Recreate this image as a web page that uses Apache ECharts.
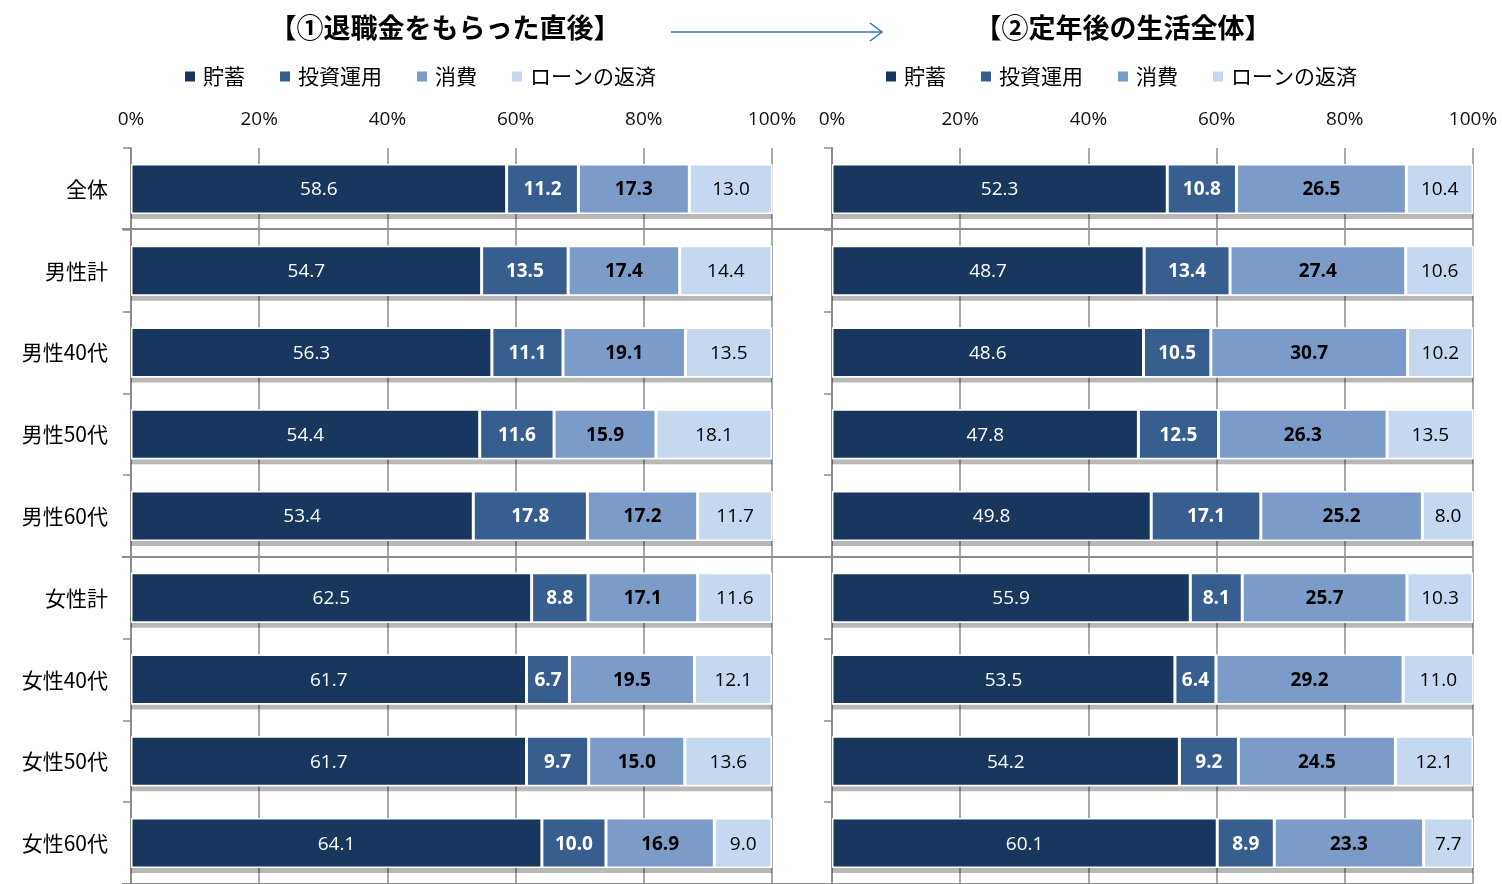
<!DOCTYPE html>
<html>
<head>
<meta charset="utf-8">
<script src="https://cdn.jsdelivr.net/npm/echarts@6/dist/echarts.min.js"></script>
<style>
  html, body { margin: 0; padding: 0; background: #fff; }
  #chart { width: 1502px; height: 884px; }
</style>
</head>
<body>
<div id="chart"></div>
<script>
// カテゴリ（上から順）
const categories = ['全体', '男性計', '男性40代', '男性50代', '男性60代', '女性計', '女性40代', '女性50代', '女性60代'];
const seriesNames = ['貯蓄', '投資運用', '消費', 'ローンの返済'];
const xTicks = [0, 20, 40, 60, 80, 100];

// ①退職金をもらった直後
const leftSaving  = [58.6, 54.7, 56.3, 54.4, 53.4, 62.5, 61.7, 61.7, 64.1];
const leftInvest  = [11.2, 13.5, 11.1, 11.6, 17.8, 8.8, 6.7, 9.7, 10.0];
const leftConsume = [17.3, 17.4, 19.1, 15.9, 17.2, 17.1, 19.5, 15.0, 16.9];
const leftLoan    = [13.0, 14.4, 13.5, 18.1, 11.7, 11.6, 12.1, 13.6, 9.0];

// ②定年後の生活全体
const rightSaving  = [52.3, 48.7, 48.6, 47.8, 49.8, 55.9, 53.5, 54.2, 60.1];
const rightInvest  = [10.8, 13.4, 10.5, 12.5, 17.1, 8.1, 6.4, 9.2, 8.9];
const rightConsume = [26.5, 27.4, 30.7, 26.3, 25.2, 25.7, 29.2, 24.5, 23.3];
const rightLoan    = [10.4, 10.6, 10.2, 13.5, 8.0, 10.3, 11.0, 12.1, 7.7];

const colors = ['#17375E', '#365E8F', '#7B9BC9', '#C5D8EF'];
const labelStyles = [
  { color: '#fff', fontWeight: 'normal' },
  { color: '#fff', fontWeight: 'bold' },
  { color: '#000', fontWeight: 'bold' },
  { color: '#000', fontWeight: 'normal' }
];
const numFont = '"Open Sans", "Noto Sans", sans-serif';
const jpFont = '"Noto Sans CJK JP", sans-serif';
const gridColor = '#8c8c8c';

const myChart = echarts.init(document.getElementById('chart'));

function xAxisFor(gridIndex) {
  return {
    type: 'value',
    gridIndex: gridIndex,
    position: 'top',
    min: xTicks[0],
    max: xTicks[xTicks.length - 1],
    interval: xTicks[1] - xTicks[0],
    axisLine: { show: false },
    axisTick: { show: false },
    axisLabel: {
      formatter: '{value}%',
      fontSize: 19,
      color: '#111',
      margin: 19,
      fontFamily: numFont
    },
    splitLine: { show: true, lineStyle: { color: gridColor, width: 1.5 } }
  };
}

function yAxisFor(gridIndex, showLabel) {
  return {
    type: 'category',
    gridIndex: gridIndex,
    inverse: true,
    data: categories,
    axisLine: { show: true, lineStyle: { color: gridColor, width: 2 } },
    axisTick: { show: true, length: 8, lineStyle: { color: gridColor, width: 1.5 } },
    axisLabel: {
      show: showLabel,
      fontSize: 21,
      color: '#000',
      margin: 23,
      fontFamily: jpFont
    },
    splitLine: { show: false }
  };
}

function panelSeries(data, stack, idx) {
  // 棒の下の影（合計値の棒を背面に置く）
  const totals = data[0].map((_, r) => data.reduce((s, arr) => s + arr[r], 0));
  const shadow = {
    type: 'bar',
    xAxisIndex: idx,
    yAxisIndex: idx,
    barWidth: 50,
    barGap: '-100%',
    data: totals,
    silent: true,
    z: 1,
    itemStyle: {
      color: '#fff',
      shadowColor: 'rgba(0,0,0,0.28)',
      shadowOffsetY: 5,
      shadowBlur: 0
    },
    label: { show: false },
    emphasis: { disabled: true }
  };
  const parts = data.map((values, i) => ({
    name: seriesNames[i],
    type: 'bar',
    stack: stack,
    xAxisIndex: idx,
    yAxisIndex: idx,
    barWidth: 50,
    barGap: '-100%',
    z: 2,
    data: values,
    itemStyle: {
      color: colors[i],
      borderColor: '#fff',
      borderWidth: 1.5
    },
    label: {
      show: true,
      position: 'inside',
      fontSize: 19,
      offset: [0, 1],
      fontFamily: numFont,
      color: labelStyles[i].color,
      fontWeight: labelStyles[i].fontWeight,
      formatter: p => p.value.toFixed(1)
    },
    emphasis: { disabled: true }
  }));
  return [shadow, ...parts];
}

const legendBase = {
  data: seriesNames,
  top: 61,
  icon: 'rect',
  itemWidth: 12,
  itemHeight: 12,
  itemGap: 33,
  textStyle: { fontSize: 21, color: '#000', fontFamily: jpFont, padding: [0, 0, 0, 2] },
  selectedMode: false
};

const option = {
  animation: false,
  backgroundColor: '#fff',
  title: [
    {
      text: '【①退職金をもらった直後】',
      left: 440,
      textAlign: 'center',
      top: 9,
      textStyle: { fontSize: 27, fontWeight: 'bold', color: '#000', fontFamily: jpFont }
    },
    {
      text: '【②定年後の生活全体】',
      left: 1118,
      textAlign: 'center',
      top: 9,
      textStyle: { fontSize: 27, fontWeight: 'bold', color: '#000', fontFamily: jpFont }
    }
  ],
  legend: [
    Object.assign({}, legendBase, { left: 178 }),
    Object.assign({}, legendBase, { left: 879 })
  ],
  grid: [
    { left: 131, width: 641, top: 148, height: 742 },
    { left: 832, width: 641, top: 148, height: 742 },
    { left: 122, width: 1350, top: 147, height: 742 }
  ],
  xAxis: [
    xAxisFor(0),
    xAxisFor(1),
    { type: 'value', gridIndex: 2, min: 0, max: 1, show: false }
  ],
  yAxis: [
    yAxisFor(0, true),
    yAxisFor(1, false),
    {
      // 全体／男性／女性の区切り線
      type: 'category',
      gridIndex: 2,
      inverse: true,
      data: categories,
      axisLine: { show: false },
      axisTick: { show: false },
      axisLabel: { show: false },
      splitLine: {
        show: true,
        interval: (index) => index === 1 || index === 5,
        lineStyle: { color: gridColor, width: 2 }
      }
    }
  ],
  graphic: [
    {
      type: 'line',
      shape: { x1: 671, y1: 32, x2: 882, y2: 32 },
      style: { stroke: '#2E75B6', lineWidth: 1.5 }
    },
    {
      type: 'polyline',
      shape: { points: [[870, 23], [882, 32], [870, 41]] },
      style: { stroke: '#2E75B6', lineWidth: 1.5, fill: null }
    }
  ],
  series: [
    ...panelSeries([leftSaving, leftInvest, leftConsume, leftLoan], 'left', 0),
    ...panelSeries([rightSaving, rightInvest, rightConsume, rightLoan], 'right', 1)
  ]
};

myChart.setOption(option);
</script>
</body>
</html>
